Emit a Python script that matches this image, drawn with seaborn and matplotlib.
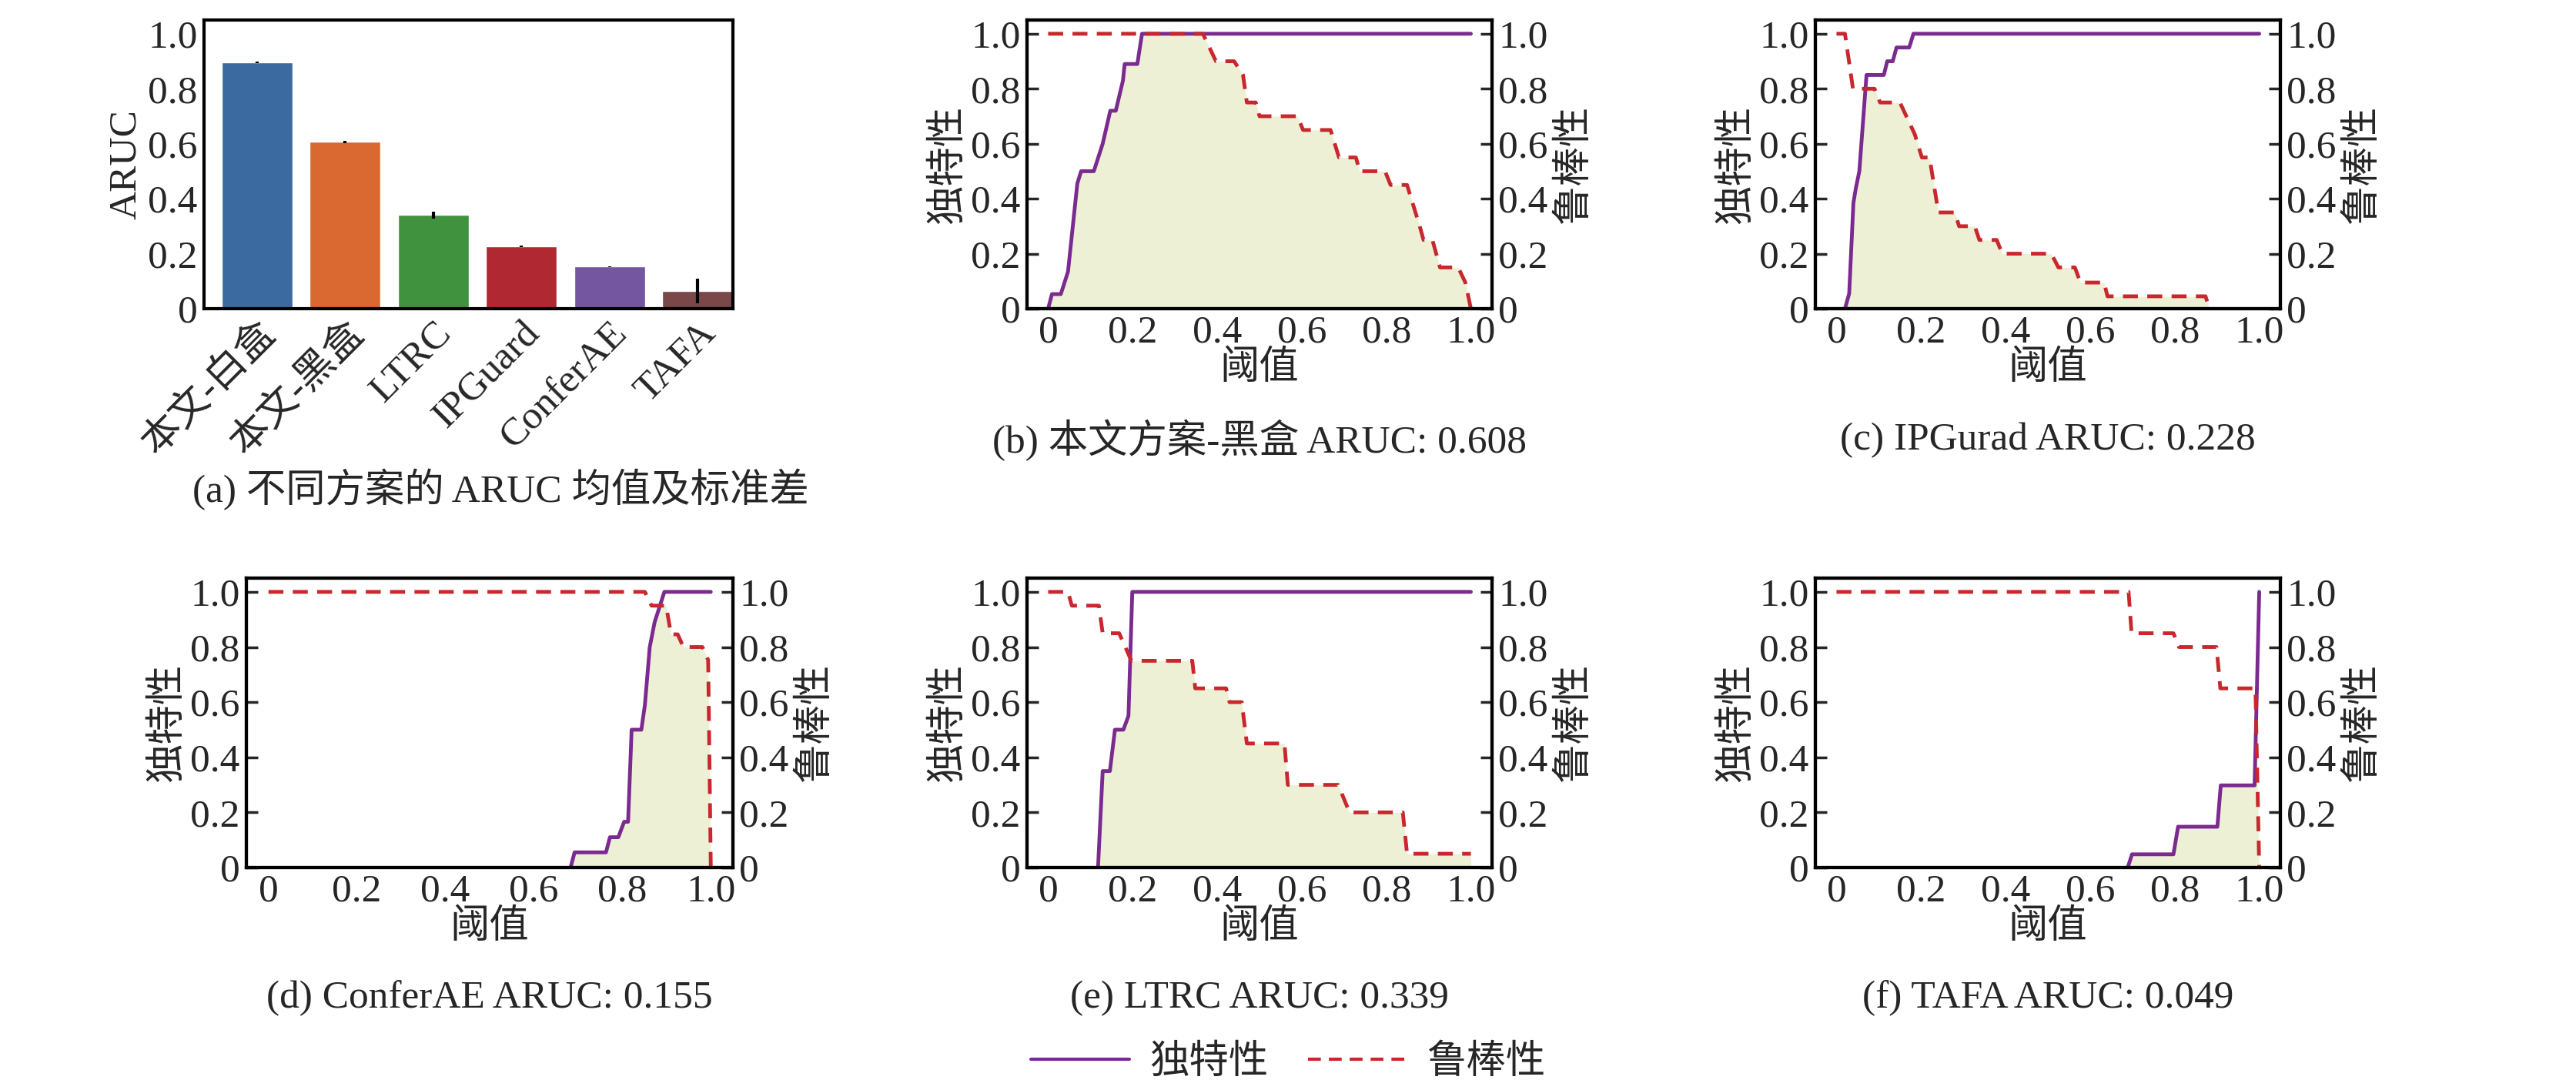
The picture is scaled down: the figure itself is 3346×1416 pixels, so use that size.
import numpy as np
import pandas as pd
import matplotlib
matplotlib.use("Agg")
import matplotlib.pyplot as plt
import seaborn as sns
from matplotlib.lines import Line2D

sns.set_theme(style="white")
plt.rcParams['font.family'] = ['Liberation Serif', 'Noto Sans CJK SC']
plt.rcParams['axes.unicode_minus'] = False

# (a) bar data
methods = ["本文-白盒", "本文-黑盒", "LTRC", "IPGuard", "ConferAE", "TAFA"]
aruc_mean = [0.897, 0.607, 0.341, 0.226, 0.153, 0.065]
aruc_std = [0.003, 0.004, 0.012, 0.003, 0.002, 0.045]
bar_colors = ["#3b6aa0", "#d96831", "#41923e", "#b02832", "#7455a0", "#7a4848"]

# (b) 本文方案-黑盒
b_uniq_x = [0, .009, .03, .047, .069, .078, .108, .129, .147, .16, .177, .181, .211, .222, 1.0]
b_uniq_y = [0, .053, .053, .135, .455, .5, .5, .6, .72, .72, .83, .89, .89, 1.0, 1.0]
b_rob_x = [0, .366, .397, .44, .461, .47, .491, .5, .59, .603, .668, .688, .728, .737, .797,
           .81, .849, .879, .888, .909, .927, .97, .987, 1.0]
b_rob_y = [1, 1, .9, .9, .85, .75, .75, .7, .7, .65, .65, .55, .55, .5, .5,
           .45, .45, .3, .25, .25, .15, .15, .095, 0]

# (c) IPGurad
c_uniq_x = [.02, .03, .04, .046, .054, .071, .112, .12, .133, .142, .172, .182, 1.0]
c_uniq_y = [0, .055, .385, .44, .5, .85, .85, .9, .9, .95, .95, 1.0, 1.0]
c_rob_x = [0, .02, .039, .09, .103, .15, .185, .202, .22, .241, .28, .29, .327, .338, .379,
           .392, .508, .525, .564, .577, .633, .641, .873, .882]
c_rob_y = [1, 1, .8, .8, .75, .75, .635, .55, .55, .35, .35, .3, .3, .25, .25,
           .2, .2, .15, .15, .095, .095, .045, .045, 0]

# (d) ConferAE
d_uniq_x = [.683, .692, .763, .772, .791, .804, .813, .821, .843, .851, .862, .873, .895, 1.0]
d_uniq_y = [0, .055, .055, .11, .11, .166, .166, .5, .5, .59, .8, .89, 1.0, 1.0]
d_rob_x = [0, .851, .866, .899, .91, .925, .938, .981, .994, 1.0]
d_rob_y = [1, 1, .95, .95, .846, .846, .8, .8, .753, 0]

# (e) LTRC
e_uniq_x = [.118, .129, .146, .158, .178, .19, .199, 1.0]
e_uniq_y = [0, .35, .35, .5, .5, .55, 1.0, 1.0]
e_rob_x = [0, .047, .056, .12, .129, .168, .197, .341, .348, .421, .429, .458, .47, .559,
           .567, .686, .713, .839, .849, 1.0]
e_rob_y = [1, 1, .95, .95, .85, .85, .75, .75, .65, .65, .6, .6, .45, .45,
           .3, .3, .2, .2, .05, .05]

# (f) TAFA
f_uniq_x = [.689, .699, .797, .808, .901, .909, .989, 1.0]
f_uniq_y = [0, .048, .048, .148, .148, .298, .298, 1.0]
f_rob_x = [0, .691, .698, .797, .81, .899, .908, .991, 1.0]
f_rob_y = [1, 1, .85, .85, .8, .8, .65, .65, 0]

panels = [
    ("(b) 本文方案-黑盒 ARUC: 0.608", b_uniq_x, b_uniq_y, b_rob_x, b_rob_y),
    ("(c) IPGurad ARUC: 0.228", c_uniq_x, c_uniq_y, c_rob_x, c_rob_y),
    ("(d) ConferAE ARUC: 0.155", d_uniq_x, d_uniq_y, d_rob_x, d_rob_y),
    ("(e) LTRC ARUC: 0.339", e_uniq_x, e_uniq_y, e_rob_x, e_rob_y),
    ("(f) TAFA ARUC: 0.049", f_uniq_x, f_uniq_y, f_rob_x, f_rob_y),
]

FS = 37
PURPLE = "#7b2a90"
RED = "#c8282d"
FILL = "#eef0d6"
W, H = 3346, 1416

fig = plt.figure(figsize=(W / 100, H / 100), dpi=100)


def add_ax(x0, x1, y0, y1):
    return fig.add_axes([x0 / W, 1 - y1 / H, (x1 - x0) / W, (y1 - y0) / H])


def style(ax):
    ax.tick_params(direction="in", length=11, width=2.5, labelsize=FS, pad=6)
    for s in ax.spines.values():
        s.set_linewidth(3)
        s.set_color("black")


ylabels_fmt = ["0", "0.2", "0.4", "0.6", "0.8", "1.0"]
yt = [0, .2, .4, .6, .8, 1.0]

# (a)
ax = add_ax(265, 952, 26, 401)
df = pd.DataFrame({"method": methods, "aruc": aruc_mean})
sns.barplot(data=df, x="method", y="aruc", hue="method", palette=bar_colors,
            legend=False, ax=ax, width=0.8, saturation=1)
ax.errorbar(range(len(methods)), aruc_mean, yerr=aruc_std, fmt="none",
            ecolor="black", elinewidth=3)
ax.set_xlim(-0.6, 5.4)
ax.set_ylim(0, 1.05)
ax.set_yticks(yt, ylabels_fmt)
ax.set_xticks(range(len(methods)))
ax.set_xticklabels(methods, rotation=45, ha="right", rotation_mode="anchor")
ax.set_xlabel("")
ax.set_ylabel("ARUC", fontsize=FS, labelpad=4)
style(ax)
fig.text(250 / W, 1 - 636 / H, "(a) 不同方案的 ARUC 均值及标准差", fontsize=FS, ha="left", va="center")

boxes = [(1334, 1938, 26, 401, 572), (2358, 2962, 26, 401, 572),
         (320, 952, 751, 1127, 1297), (1334, 1938, 751, 1127, 1297),
         (2358, 2962, 751, 1127, 1297)]

grid = np.linspace(0, 1, 2001)
for (title, ux, uy, rx, ry), (x0, x1, y0, y1, ty) in zip(panels, boxes):
    ax = add_ax(x0, x1, y0, y1)
    u = np.interp(grid, ux, uy, left=0, right=uy[-1])
    r = np.interp(grid, rx, ry, left=ry[0], right=0)
    ax.fill_between(grid, 0, np.minimum(u, r), color=FILL, lw=0)
    sns.lineplot(x=ux, y=uy, ax=ax, color=PURPLE, lw=3.5, sort=False, estimator=None)
    sns.lineplot(x=rx, y=ry, ax=ax, color=RED, lw=3.5, sort=False, estimator=None)
    ax.lines[-1].set_linestyle((0, (4, 2.5)))
    ax.set_xlim(-0.05, 1.05)
    ax.set_ylim(0, 1.05)
    ax.set_xticks(yt, ["0", "0.2", "0.4", "0.6", "0.8", "1.0"])
    ax.set_yticks(yt, ylabels_fmt)
    ax.set_xlabel("阈值", fontsize=FS, labelpad=0)
    ax.set_ylabel("独特性", fontsize=FS, labelpad=4)
    style(ax)
    ax2 = ax.twinx()
    ax2.set_ylim(0, 1.05)
    ax2.set_yticks(yt, ylabels_fmt)
    ax2.set_ylabel("鲁棒性", fontsize=FS, rotation=90, labelpad=8)
    style(ax2)
    fig.text((x0 + x1) / 2 / W, 1 - ty / H, title, fontsize=FS, ha="center", va="center")

handles = [Line2D([], [], color=PURPLE, lw=3),
           Line2D([], [], color=RED, lw=3, ls=(0, (4, 2.5)))]
fig.legend(handles, ["独特性", "鲁棒性"], loc="center", bbox_to_anchor=(0.5, 1 - 1381 / H),
           ncol=2, frameon=False, fontsize=FS, handlelength=2.5, columnspacing=1.0,
           handletextpad=0.5)

fig.savefig("out.png", dpi=100)
